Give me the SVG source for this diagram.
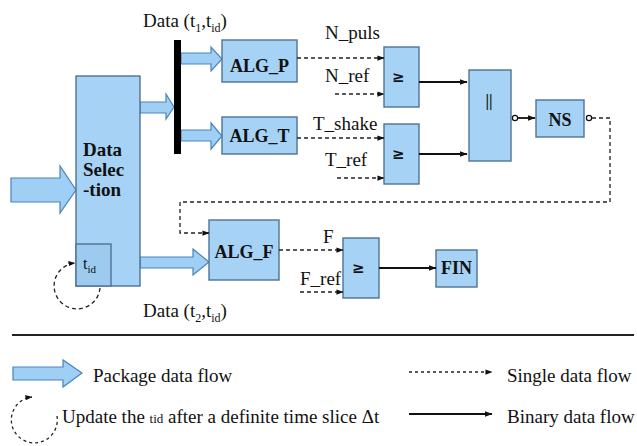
<svg xmlns="http://www.w3.org/2000/svg" width="637" height="446" viewBox="0 0 637 446">
  <style>
    .box { fill: #a6d3f5; stroke: #4f7394; stroke-width: 1.4; }
    .pkg { fill: #9fcff4; stroke: #4a84bb; stroke-width: 1.2; }
    .dash { fill: none; stroke: #222; stroke-width: 1.3; stroke-dasharray: 4 3; }
    .fine { stroke-dasharray: 3 3; }
    .solid { fill: none; stroke: #111; stroke-width: 2.2; }
    text { font-family: 'Liberation Serif', Tinos, 'Times New Roman', Times, 'DejaVu Serif', serif; fill: #111; }
    .lbl { font-size: 19px; }
    .bold { font-size: 18px; font-weight: bold; }
    .title { font-size: 19px; font-weight: bold; }
    .or { font-size: 16px; font-weight: bold; }
    .ge { font-family: 'DejaVu Sans', sans-serif; font-size: 15px; font-weight: bold; }
  </style>
  <defs>
    <marker id="ah" viewBox="0 0 8 6" refX="7.5" refY="3" markerWidth="7" markerHeight="5.5" markerUnits="userSpaceOnUse" orient="auto">
      <path d="M0,0 L8,3 L0,6 Z" fill="#111"/>
    </marker>
    <marker id="ahs" viewBox="0 0 8 6" refX="7.5" refY="3" markerWidth="8" markerHeight="6" markerUnits="userSpaceOnUse" orient="auto">
      <path d="M0,0 L8,3 L0,6 Z" fill="#111"/>
    </marker>
  </defs>

  <!-- package data flow arrows -->
  <g id="package-arrows">
    <path class="pkg" d="M11,178 H60 V166 L76,190 L60,213 V202 H11 Z"/>
    <path class="pkg" d="M140,102 H166 V94 L174,107 L166,119 V113 H140 Z"/>
    <path class="pkg" d="M181,53 H211 V47 L222,59 L211,71 V64 H181 Z"/>
    <path class="pkg" d="M181,130 H211 V123 L222,136 L211,149 V141 H181 Z"/>
    <path class="pkg" d="M140,257 H193 V249 L209,262 L193,275 V268 H140 Z"/>
  </g>

  <!-- data bus -->
  <rect id="bus" x="174" y="40" width="7" height="114" fill="#000"/>

  <g id="data-selection">
    <rect class="box" x="76" y="76" width="64" height="210"/>
    <text class="title" x="83" y="156">Data</text>
    <text class="title" x="83" y="176">Selec</text>
    <text class="title" x="83" y="196">-tion</text>
  </g>
  <g id="tid">
    <rect class="box" x="76" y="244" width="35" height="42" style="fill:#9dcbef"/>
    <text x="83" y="269" style="font-size:16px">t<tspan style="font-size:11px" dy="4">id</tspan></text>
  </g>

  <g id="alg-p">
    <rect class="box" x="222" y="40" width="75" height="42"/>
    <text class="bold" x="259.5" y="72" text-anchor="middle">ALG_P</text>
  </g>
  <g id="alg-t">
    <rect class="box" x="222" y="117" width="75" height="37"/>
    <text class="bold" x="259.5" y="142" text-anchor="middle">ALG_T</text>
  </g>
  <g id="alg-f">
    <rect class="box" x="209" y="220" width="70" height="60"/>
    <text class="bold" x="244" y="258" text-anchor="middle">ALG_F</text>
  </g>

  <g id="cmp-n">
    <rect class="box" x="384" y="47" width="35" height="60"/>
    <text class="ge" x="392" y="82">≥</text>
  </g>
  <g id="cmp-t">
    <rect class="box" x="384" y="124" width="35" height="60"/>
    <text class="ge" x="392" y="159">≥</text>
  </g>
  <g id="cmp-f">
    <rect class="box" x="343" y="238" width="36" height="60"/>
    <text class="ge" x="352" y="273">≥</text>
  </g>

  <g id="or">
    <rect class="box" x="469" y="70" width="42" height="91"/>
    <text class="or" x="489" y="106" text-anchor="middle">||</text>
  </g>
  <g id="ns">
    <rect class="box" x="536" y="100" width="48" height="37"/>
    <text class="bold" x="560" y="126" text-anchor="middle">NS</text>
  </g>
  <g id="fin">
    <rect class="box" x="436" y="250" width="41" height="37"/>
    <text class="bold" x="456.5" y="274" text-anchor="middle">FIN</text>
  </g>

  <!-- labels -->
  <g id="labels">
    <text class="lbl" x="143" y="27">Data (t<tspan style="font-size:12px" dy="5">1</tspan><tspan dy="-5">,t</tspan><tspan style="font-size:12px" dy="5">id</tspan><tspan dy="-5">)</tspan></text>
    <text class="lbl" x="143" y="317">Data (t<tspan style="font-size:12px" dy="5">2</tspan><tspan dy="-5">,t</tspan><tspan style="font-size:12px" dy="5">id</tspan><tspan dy="-5">)</tspan></text>
    <text class="lbl" x="325" y="39">N_puls</text>
    <text class="lbl" x="325" y="82">N_ref</text>
    <text class="lbl" x="313" y="130">T_shake</text>
    <text class="lbl" x="325" y="166">T_ref</text>
    <text class="lbl" x="323" y="243">F</text>
    <text class="lbl" x="300" y="285">F_ref</text>
  </g>

  <g id="connectors">
    <path class="dash" d="M297,58 H384" marker-end="url(#ah)"/>
    <path class="dash" d="M335,94 H384" marker-end="url(#ah)"/>
    <path class="dash" d="M297,138 H384" marker-end="url(#ah)"/>
    <path class="dash" d="M337,178 H384" marker-end="url(#ah)"/>
    <path class="dash" d="M279,250 H343" marker-end="url(#ah)"/>
    <path class="dash" d="M300,292 H343" marker-end="url(#ah)"/>
    <path class="dash" d="M592,118 H610 V202 H180 V233 H209" marker-end="url(#ah)"/>
    <path class="dash" d="M100,288 A23,23 0 1 1 75,263" marker-end="url(#ah)"/>
    <path class="solid" d="M419,82 H467" marker-end="url(#ahs)"/>
    <path class="solid" d="M419,154 H467" marker-end="url(#ahs)"/>
    <path class="solid" d="M379,268 H436" marker-end="url(#ahs)"/>
    <path class="solid" d="M518,118 H535" style="stroke-width:1.8" marker-end="url(#ahs)"/>
    <circle cx="515" cy="118" r="2.6" fill="#fff" stroke="#111" stroke-width="1.2"/>
    <circle cx="589" cy="118" r="2.6" fill="#fff" stroke="#111" stroke-width="1.2"/>
  </g>

  <!-- legend -->
  <g id="legend">
    <line x1="12" y1="335" x2="634" y2="335" stroke="#222" stroke-width="2.2"/>
    <path class="pkg" d="M13,367 H63 V360 L82,373 L63,387 V380 H13 Z"/>
    <text class="lbl" x="93" y="382">Package data flow</text>
    <path class="dash fine" d="M57,416 A23,23 0 1 1 32,397" marker-end="url(#ah)"/>
    <text class="lbl" x="62" y="423">Update the <tspan style="font-size:13px">tid</tspan> after a definite time slice Δt</text>
    <path class="dash fine" d="M409,372 H492" marker-end="url(#ah)"/>
    <text class="lbl" x="507" y="382">Single data flow</text>
    <path class="solid" d="M409,414 H492" marker-end="url(#ahs)"/>
    <text class="lbl" x="507" y="423">Binary data flow</text>
  </g>
</svg>
